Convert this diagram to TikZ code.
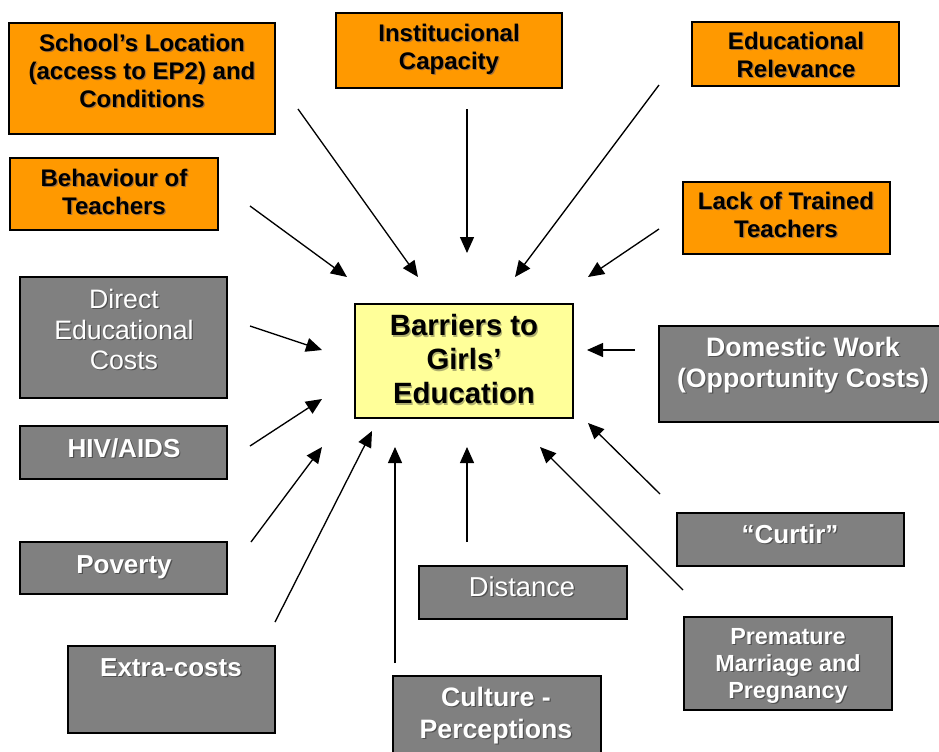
\documentclass[tikz,border=0pt]{standalone}
\usepackage{fontspec}
\setmainfont{Liberation Sans}
\usetikzlibrary{arrows.meta}
\definecolor{orng}{HTML}{FF9900}
\definecolor{gry}{HTML}{808080}
\definecolor{ylw}{HTML}{FFFF99}
\definecolor{shdA}{HTML}{A07040}
\definecolor{shdB}{HTML}{505050}
\definecolor{shdC}{HTML}{B0B070}
\newcommand\shtext[3]{%
 \leavevmode\rlap{\raisebox{-0.9pt}[0pt][0pt]{\hspace{0.9pt}\textcolor{#1}{\begin{tabular}{@{}c@{}}#3\end{tabular}}}}%
 \textcolor{#2}{\begin{tabular}{@{}c@{}}#3\end{tabular}}}
\newcommand\bx[6]{%
 \node[#2, minimum width={(#5-#3)*0.75pt}, minimum height={(#6-#4)*0.75pt}] (#1) at ({(#3+#5)/2},{(#4+#6)/2}) {};}
\tikzset{
 x=0.75pt, y=-0.75pt,
 basebox/.style={draw=black, line width=1.1pt, inner sep=0pt, outer sep=0pt},
 obox/.style={basebox, fill=orng},
 gbox/.style={basebox, fill=gry},
 ybox/.style={basebox, fill=ylw},
 txt/.style={inner sep=0pt},
 arr/.style={line width=1pt, -{Triangle[length=12pt,width=10.5pt]}}
}
\newcommand\fOr{\fontsize{18}{21}\selectfont\bfseries}
\newcommand\fCe{\fontsize{22}{25.5}\selectfont\bfseries}
\newcommand\fRg{\fontsize{20}{22.9}\selectfont}
\newcommand\fGb{\fontsize{19.5}{23.25}\selectfont\bfseries}
\newcommand\fPm{\fontsize{17.5}{20.25}\selectfont\bfseries}
\begin{document}
\begin{tikzpicture}
\useasboundingbox[fill=white] (0,0) rectangle (939,751);
% boxes
\bx{school}{obox}{9}{23}{275}{134}
\bx{inst}{obox}{336}{13}{562}{88}
\bx{edurel}{obox}{692}{22}{899}{86}
\bx{behav}{obox}{10}{158}{218}{230}
\bx{lack}{obox}{683}{182}{890}{254}
\bx{direct}{gbox}{20}{277}{227}{398}
\bx{center}{ybox}{355}{304}{573}{418}
\bx{domestic}{gbox}{659}{326}{945}{422}
\bx{hiv}{gbox}{20}{426}{227}{479}
\bx{curtir}{gbox}{677}{513}{904}{566}
\bx{poverty}{gbox}{20}{542}{227}{594}
\bx{distance}{gbox}{419}{566}{627}{619}
\bx{premature}{gbox}{684}{617}{892}{710}
\bx{extra}{gbox}{68}{646}{275}{733}
\bx{culture}{gbox}{393}{676}{601}{765}
% texts
\node[txt] (school-t) at (142,74) {\fOr\shtext{shdA}{black}{School’s Location\\(access to EP2) and\\Conditions}};
\node[txt] (inst-t) at (449,50) {\fOr\shtext{shdA}{black}{Institucional\\Capacity}};
\node[txt] (edurel-t) at (796,57.5) {\fOr\shtext{shdA}{black}{Educational\\Relevance}};
\node[txt] (behav-t) at (114,194.5) {\fOr\shtext{shdA}{black}{Behaviour of\\Teachers}};
\node[txt] (lack-t) at (786,217.5) {\fOr\shtext{shdA}{black}{Lack of Trained\\Teachers}};
\node[txt] (direct-t) at (124,333) {\fRg\shtext{shdB}{white}{Direct\\Educational\\Costs}};
\node[txt] (center-t) at (464,363) {\fCe\shtext{shdC}{black}{Barriers to\\Girls’\\Education}};
\node[txt] (domestic-t) at (803,365.5) {\fontsize{20}{23.25}\selectfont\bfseries\shtext{shdB}{white}{Domestic Work\\(Opportunity Costs)}};
\node[txt] (hiv-t) at (124,451) {\fGb\shtext{shdB}{white}{HIV/AIDS}};
\node[txt] (curtir-t) at (790,537) {\fGb\shtext{shdB}{white}{“Curtir”}};
\node[txt] (poverty-t) at (124,567) {\fGb\shtext{shdB}{white}{Poverty}};
\node[txt] (distance-t) at (522,590) {\fontsize{20.5}{23}\selectfont\shtext{shdB}{white}{Distance}};
\node[txt] (premature-t) at (788,666) {\fPm\shtext{shdB}{white}{Premature\\Marriage and\\Pregnancy}};
\node[txt] (extra-t) at (171,670) {\fGb\shtext{shdB}{white}{Extra-costs}};
\node[txt] (culture-t) at (496,716) {\fontsize{20}{24}\selectfont\bfseries\shtext{shdB}{white}{Culture -\\Perceptions}};
% arrow endpoints
\coordinate (s1) at (298,109);  \coordinate (e1) at (418,277);
\coordinate (s2) at (467,109);  \coordinate (e2) at (467,253);
\coordinate (s3) at (659,85);   \coordinate (e3) at (515,277);
\coordinate (s4) at (250,206);  \coordinate (e4) at (347,277);
\coordinate (s5) at (659,229);  \coordinate (e5) at (588,277);
\coordinate (s6) at (250,326);  \coordinate (e6) at (322,350);
\coordinate (s7) at (635,350);  \coordinate (e7) at (587,350);
\coordinate (s8) at (250,446);  \coordinate (e8) at (322,399);
\coordinate (s9) at (251,542);  \coordinate (e9) at (322,447);
\coordinate (s10) at (275,622); \coordinate (e10) at (372,431);
\coordinate (s11) at (395,663); \coordinate (e11) at (395,447);
\coordinate (s12) at (467,542); \coordinate (e12) at (467,447);
\coordinate (s13) at (683,590); \coordinate (e13) at (540,447);
\coordinate (s14) at (660,494); \coordinate (e14) at (588,423);
\foreach \i in {1,...,14} {\draw[arr] (s\i) -- (e\i);}
\end{tikzpicture}
\end{document}
